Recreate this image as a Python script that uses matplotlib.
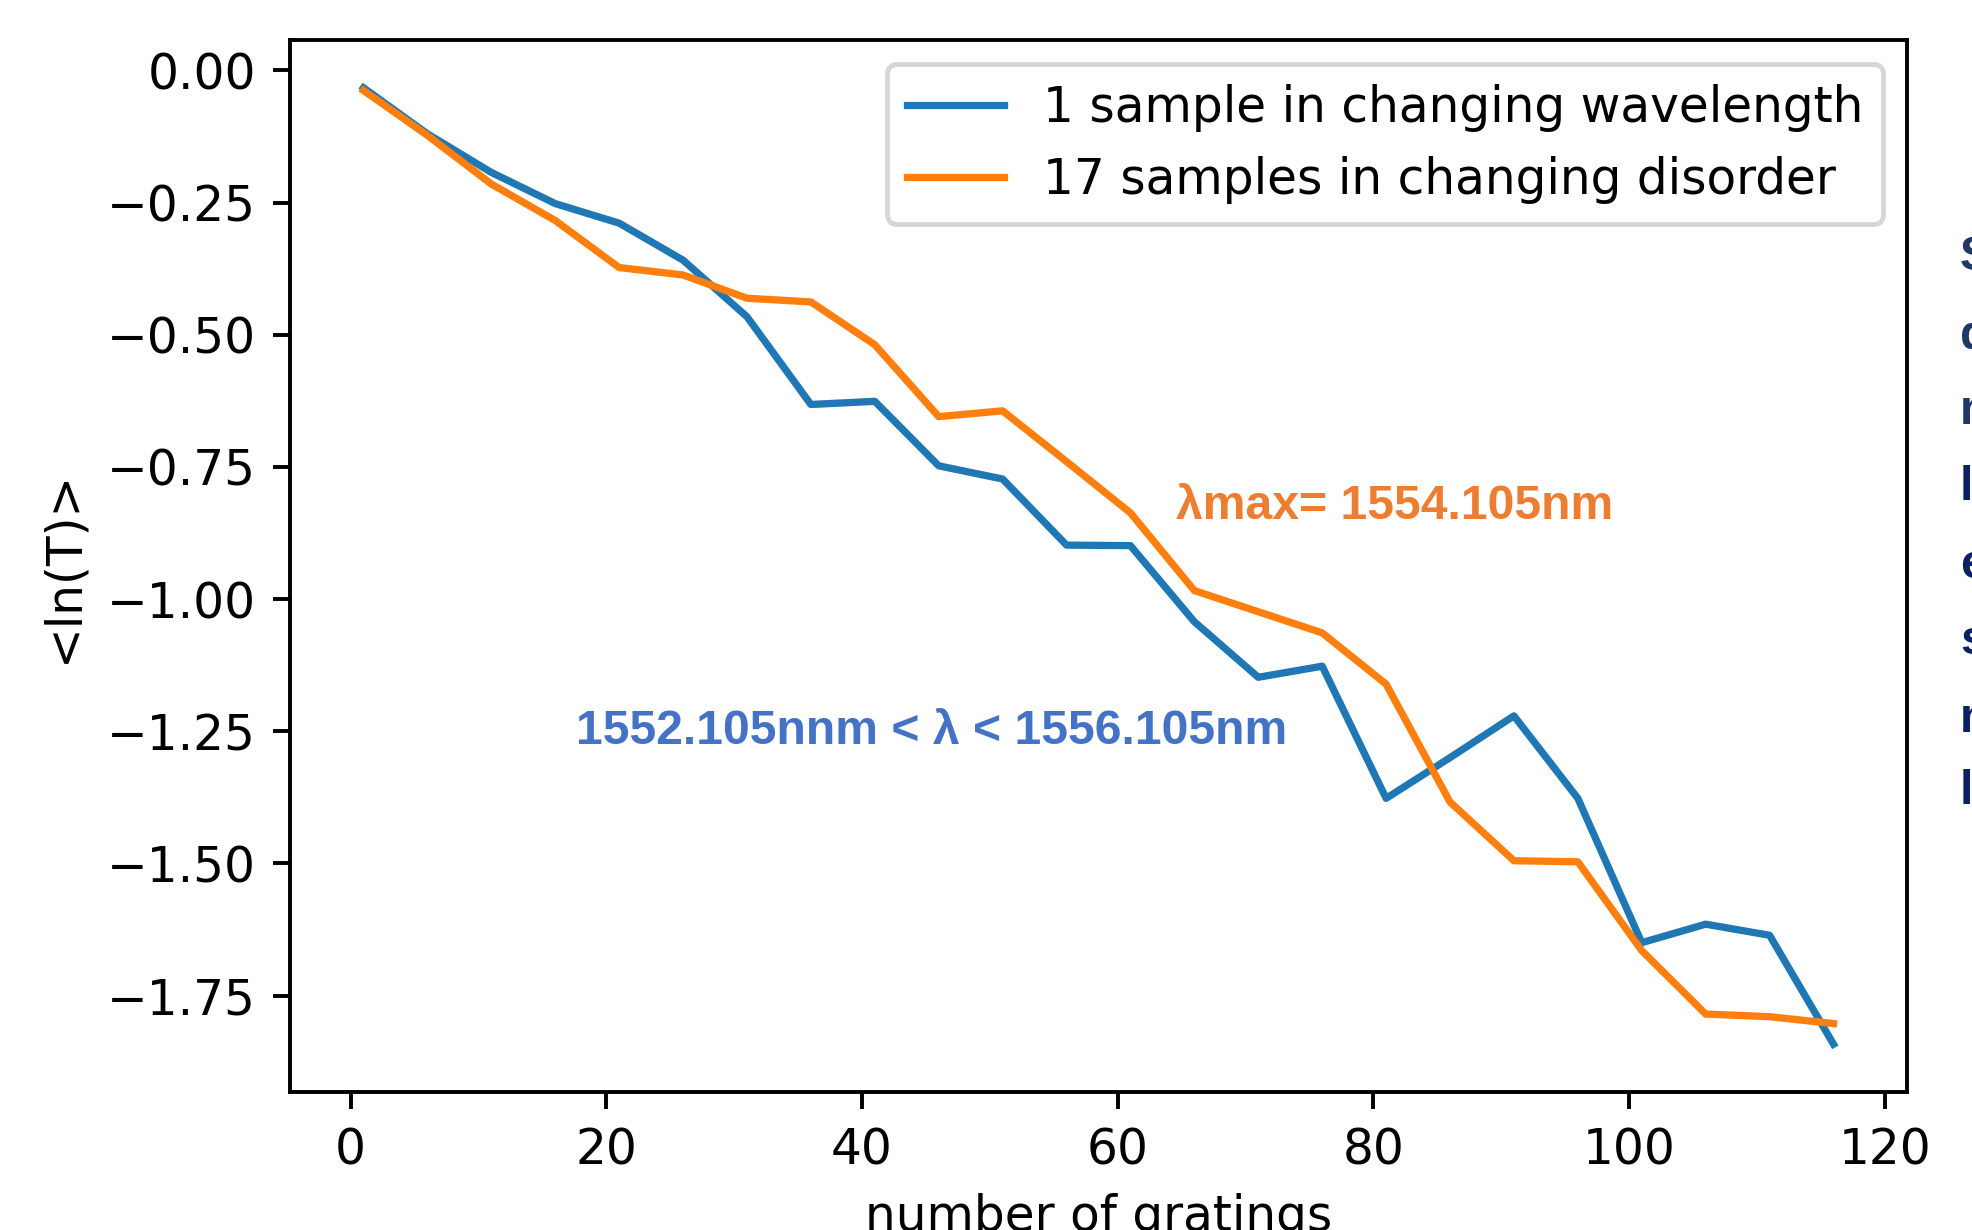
import matplotlib
matplotlib.use("Agg")
import matplotlib.pyplot as plt

# ---- data ----
gratings = [1, 6, 11, 16, 21, 26, 31, 36, 41, 46, 51, 56, 61, 66, 71, 76,
            81, 86, 91, 96, 101, 106, 111, 116]
wavelength_series = [-0.033, -0.120, -0.193, -0.252, -0.289, -0.359, -0.466, -0.632,
                     -0.626, -0.748, -0.773, -0.898, -0.899, -1.043, -1.148, -1.127,
                     -1.377, -1.300, -1.221, -1.377, -1.650, -1.615, -1.636, -1.842]
disorder_series = [-0.038, -0.123, -0.215, -0.284, -0.373, -0.387, -0.431, -0.438,
                   -0.519, -0.655, -0.644, -0.740, -0.837, -0.984, -1.024, -1.064,
                   -1.161, -1.384, -1.495, -1.497, -1.665, -1.785, -1.790, -1.803]
labels = ["1 sample in changing wavelength", "17 samples in changing disorder"]
note_orange = "λmax= 1554.105nm"
note_blue = "1552.105nnm < λ < 1556.105nm"
side_letters = ["S", "d", "n", "l", "e", "s", "n", "l"]

W, H, DPI = 1972, 1230, 350
fig = plt.figure(figsize=(W / DPI, H / DPI), dpi=DPI)
ax = fig.add_axes([290 / W, 1 - 1092 / H, (1907 - 290) / W, (1092 - 40) / H])

ax.plot(gratings, wavelength_series, color="#1f77b4", lw=1.5, label=labels[0])
ax.plot(gratings, disorder_series, color="#ff7f0e", lw=1.5, label=labels[1])
ax.set_xlabel("number of gratings")
ax.set_ylabel("<ln(T)>")
ax.legend(loc="upper right")

ax.text(1176 / W, 1 - 507 / H, note_orange, transform=fig.transFigure,
        family="Liberation Sans", weight="bold", fontsize=9.9, color="#ED7D31",
        ha="left", va="center")
ax.text(576 / W, 1 - 731 / H, note_blue, transform=fig.transFigure,
        family="Liberation Sans", weight="bold", fontsize=9.9, color="#4472C4",
        ha="left", va="center")

ys = [258, 337, 411, 488, 566, 641, 719, 792]
cols = ["#203864", "#203864", "#203864", "#0B2163", "#0B2163", "#0B2163", "#0B2163", "#0B2163"]
for ch, y, c in zip(side_letters, ys, cols):
    fig.text(1960 / W, 1 - y / H, ch, family="Liberation Sans", weight="bold",
             fontsize=9.9, color=c, ha="left", va="center")

fig.savefig("out.png", dpi=DPI)
